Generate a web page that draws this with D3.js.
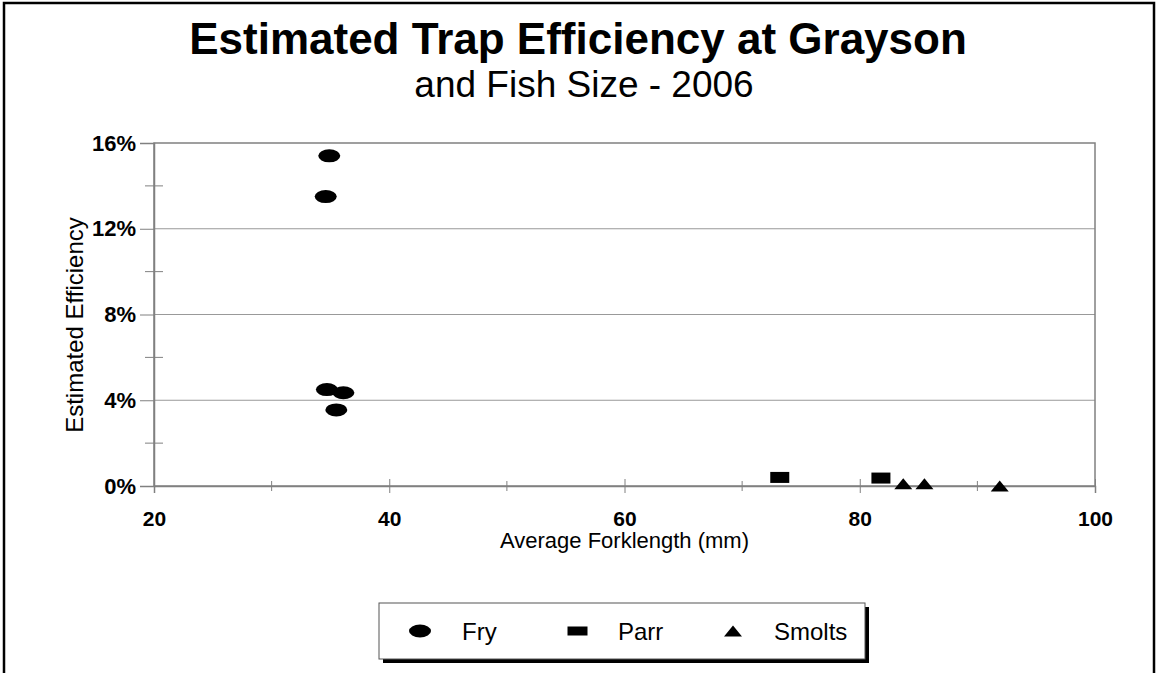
<!DOCTYPE html>
<html>
<head lang="en">
    <meta charset="UTF-8">
    <title>Estimated Trap Efficiency at Grayson</title>
    <script type="text/javascript" src="https://cdn.jsdelivr.net/npm/d3@7/dist/d3.min.js"></script>
    <style>
        body { margin: 0; background: #fff; }
        text { font-family: "Liberation Sans", Arial, sans-serif; fill: #000; }
    </style>
</head>
<body>

<svg width="1156" height="673"></svg>

<script>
    // values (forklength mm, efficiency %)
    var fryLength = [34.9, 34.6, 34.7, 36.1, 35.5];
    var fryEff = [15.4, 13.5, 4.5, 4.35, 3.55];
    var parrLength = [73.2, 81.8];
    var parrEff = [0.4, 0.37];
    var smoltLength = [83.7, 85.5, 91.9];
    var smoltEff = [0.1, 0.1, 0.0];

    var xMajor = [20, 40, 60, 80, 100];
    var xMinor = [30, 50, 70, 90];
    var yMajor = [0, 4, 8, 12, 16];
    var yMinor = [2, 6, 10, 14];
    var seriesNames = ["Fry", "Parr", "Smolts"];

    var svg = d3.select("svg");
    var grey = "#808080";

    // outer frame
    svg.append("rect")
            .attr("x", 4).attr("y", 3)
            .attr("width", 1150).attr("height", 700)
            .attr("fill", "none").attr("stroke", "#000").attr("stroke-width", 2.5);

    // note: "top" is taken by window.top, so plot* names
    var plotLeft = 154, plotRight = 1095, plotTop = 143, plotBottom = 486;
    var x = d3.scaleLinear().domain([20, 100]).range([plotLeft, plotRight]);
    var y = d3.scaleLinear().domain([0, 16]).range([plotBottom, plotTop]);

    // gridlines
    svg.append("g").selectAll("line")
            .data(yMajor.filter(function (d) { return d > 0 && d < 16; }))
            .enter().append("line")
            .attr("x1", plotLeft).attr("x2", plotRight)
            .attr("y1", function (d) { return y(d); })
            .attr("y2", function (d) { return y(d); })
            .attr("stroke", "#999").attr("stroke-width", 1);

    // plot border
    svg.append("rect")
            .attr("x", plotLeft).attr("y", plotTop)
            .attr("width", plotRight - plotLeft).attr("height", plotBottom - plotTop)
            .attr("fill", "none").attr("stroke", grey).attr("stroke-width", 1.5);

    // y axis with major + minor ticks
    var yAxis = d3.axisLeft(y).tickValues(yMajor).tickSize(14).tickPadding(4)
            .tickFormat(function (d) { return d + "%"; });
    var gy = svg.append("g").attr("transform", "translate(" + plotLeft + ",0)").call(yAxis);
    gy.select(".domain").attr("stroke", grey).attr("stroke-width", 1.5);
    gy.selectAll(".tick line").attr("stroke", grey);
    gy.selectAll(".tick text")
            .attr("font-size", 22).attr("font-weight", "bold")
            .attr("font-family", "Liberation Sans, Arial, sans-serif");
    svg.append("g").selectAll("line").data(yMinor).enter().append("line")
            .attr("x1", plotLeft - 9).attr("x2", plotLeft + 9)
            .attr("y1", function (d) { return y(d); })
            .attr("y2", function (d) { return y(d); })
            .attr("stroke", grey);

    // x axis
    var xAxis = d3.axisBottom(x).tickValues(xMajor).tickSize(7).tickPadding(18);
    var gx = svg.append("g").attr("transform", "translate(0," + plotBottom + ")").call(xAxis);
    gx.select(".domain").attr("stroke", grey).attr("stroke-width", 1.5);
    gx.selectAll(".tick line").attr("stroke", grey).attr("y1", -7);
    gx.selectAll(".tick text")
            .attr("font-size", 21).attr("font-weight", "bold")
            .attr("font-family", "Liberation Sans, Arial, sans-serif");
    svg.append("g").selectAll("line").data(xMinor).enter().append("line")
            .attr("x1", function (d) { return x(d); })
            .attr("x2", function (d) { return x(d); })
            .attr("y1", plotBottom - 5).attr("y2", plotBottom + 5)
            .attr("stroke", grey);

    // markers
    function ellipse(g, cx, cy) {
        g.append("ellipse").attr("cx", cx).attr("cy", cy).attr("rx", 11).attr("ry", 6.5).attr("fill", "#000");
    }
    function square(g, cx, cy) {
        g.append("rect").attr("x", cx - 9.5).attr("y", cy - 5.5).attr("width", 19).attr("height", 11).attr("fill", "#000");
    }
    function triangle(g, cx, cy) {
        g.append("path")
                .attr("d", "M" + (cx - 9) + "," + (cy + 5.5) + "L" + cx + "," + (cy - 5.5) + "L" + (cx + 9) + "," + (cy + 5.5) + "Z")
                .attr("fill", "#000");
    }

    var pts = svg.append("g");
    fryLength.forEach(function (d, i) { ellipse(pts, x(d), y(fryEff[i])); });
    parrLength.forEach(function (d, i) { square(pts, x(d), y(parrEff[i])); });
    smoltLength.forEach(function (d, i) { triangle(pts, x(d), y(smoltEff[i])); });

    // titles
    svg.append("text").attr("x", 578).attr("y", 54).attr("text-anchor", "middle")
            .attr("font-size", 44).attr("font-weight", "bold")
            .text("Estimated Trap Efficiency at Grayson");
    svg.append("text").attr("x", 584).attr("y", 97).attr("text-anchor", "middle")
            .attr("font-size", 37)
            .text("and Fish Size - 2006");
    svg.append("text").attr("x", (plotLeft + plotRight) / 2).attr("y", 548).attr("text-anchor", "middle")
            .attr("font-size", 22)
            .text("Average Forklength (mm)");
    svg.append("text").attr("transform", "translate(83,325) rotate(-90)").attr("text-anchor", "middle")
            .attr("font-size", 24)
            .text("Estimated Efficiency");

    // legend
    var lg = svg.append("g");
    lg.append("rect").attr("x", 383).attr("y", 607).attr("width", 486).attr("height", 56).attr("fill", "#000");
    lg.append("rect").attr("x", 379).attr("y", 603).attr("width", 486).attr("height", 56)
            .attr("fill", "#fff").attr("stroke", "#555").attr("stroke-width", 1);
    var symX = [420, 577.5, 733];
    var txtX = [462, 618, 774];
    var drawers = [ellipse, function (g, cx, cy) {
        g.append("rect").attr("x", cx - 10).attr("y", cy - 4.5).attr("width", 20).attr("height", 9).attr("fill", "#000");
    }, triangle];
    seriesNames.forEach(function (name, i) {
        drawers[i](lg, symX[i], 631);
        lg.append("text").attr("x", txtX[i]).attr("y", 640).attr("font-size", 24).text(name);
    });
</script>
</body>
</html>
